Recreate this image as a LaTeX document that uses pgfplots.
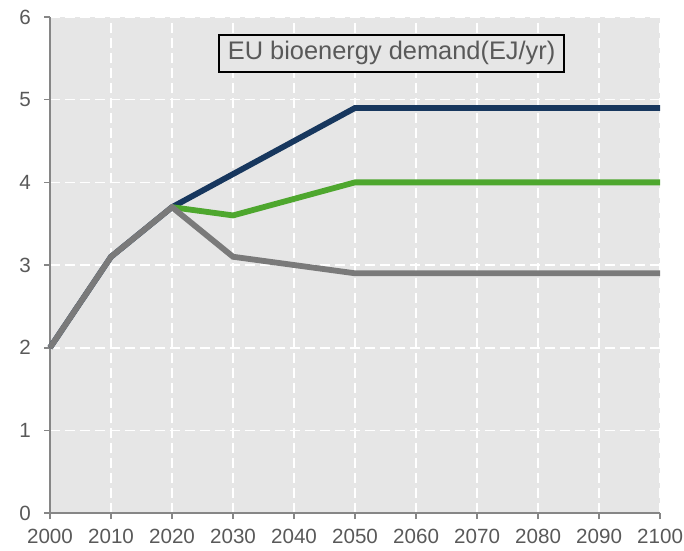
\documentclass[border=0pt]{standalone}
\usepackage{fontspec}
\setmainfont{Liberation Sans}
\usepackage{pgfplots}
\pgfplotsset{compat=1.18}
\definecolor{navy}{HTML}{17375E}
\definecolor{leaf}{HTML}{4EA72E}
\definecolor{slate}{HTML}{7A7A7A}
\definecolor{bg}{HTML}{E6E6E6}
\definecolor{txt}{HTML}{595959}
\begin{document}
\begin{tikzpicture}
\begin{axis}[
    scale only axis,
    width=305pt, height=248pt,
    xmin=2000, xmax=2100, ymin=0, ymax=6,
    xtick={2000,2010,...,2100},
    ytick={0,1,...,6},
    /pgf/number format/1000 sep={},
    /pgf/number format/assume math mode=true,
    axis x line*=bottom, axis y line*=left,
    axis line style={draw=gray!95, line width=1pt, -},
    tick style={draw=gray!95, line width=0.8pt},
    tick align=outside, major tick length=3pt,
    axis background/.style={fill=bg},
    grid=major,
    major grid style={white, dash pattern=on 5pt off 2.5pt, line width=0.8pt},
    ticklabel style={font=\fontsize{10.3}{12}\selectfont, text=txt},
    xticklabel style={yshift=-1.5pt, inner xsep=0.5pt},
    yticklabel style={xshift=-3pt},
    clip=false,
]
\addplot[navy, line width=2.9pt] coordinates {(2000,2) (2010,3.1) (2020,3.7) (2050,4.9) (2100,4.9)};
\addplot[leaf, line width=2.9pt] coordinates {(2020,3.7) (2030,3.6) (2050,4.0) (2100,4.0)};
\addplot[slate, line width=2.9pt] coordinates {(2000,2) (2010,3.1) (2020,3.7) (2030,3.1) (2050,2.9) (2100,2.9)};
\node[draw=black, line width=1pt, fill=bg, text=txt, font=\fontsize{12.7}{14}\selectfont, inner xsep=4.5pt, minimum height=18.5pt] at (axis cs:2056,5.56) {EU bioenergy demand(EJ/yr)};
\end{axis}
\path (current axis.south west) ++(-25pt,-18pt);
\path (current axis.north west) ++(0pt,8.5pt);
\end{tikzpicture}
\end{document}
